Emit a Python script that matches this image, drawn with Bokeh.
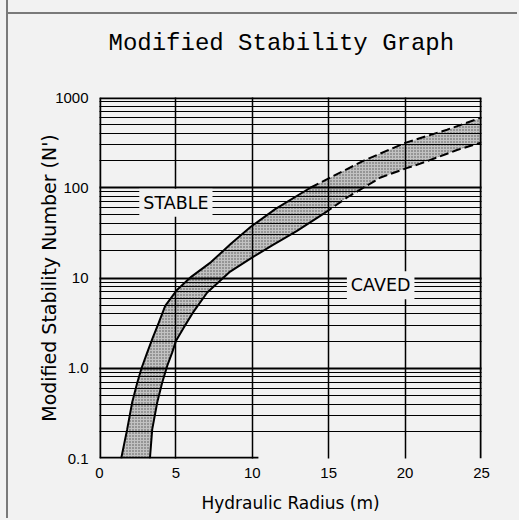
import numpy as np
from bokeh.plotting import figure
from bokeh.models import FixedTicker, Range1d, Label
from bokeh.embed import file_html
from bokeh.resources import INLINE

# ---- data ----
title_text = "Modified Stability Graph"
x_ticks = [0, 5, 10, 15, 20, 25]
y_ticks = [0.1, 1, 10, 100, 1000]
y_tick_labels = ["0.1", "1.0", "10", "100", "1000"]
y_grid_major = [1, 10, 100, 1000]
y_grid_minor = [m * d for d in [0.1, 1, 10, 100] for m in range(2, 10)]

# upper (stable side) boundary of the transition zone
upper_x = [1.42, 1.81, 2.14, 2.47, 2.75, 3.12, 3.45, 3.88, 4.3, 5.05, 6.0, 7.3, 8.6, 9.9, 11.5, 13.8, 15.0, 17.3, 20.0, 22.75, 25.0]
upper_y = [0.1, 0.21, 0.42, 0.69, 1.0, 1.49, 2.1, 3.2, 4.9, 7.3, 10.3, 15, 24, 37, 58, 100, 127, 200, 314, 440, 600]
upper_dash_from = 13.8

# lower (caved side) boundary of the transition zone
lower_x = [3.3, 3.45, 3.78, 4.1, 4.43, 4.76, 5.0, 5.5, 6.1, 7.05, 8.5, 9.9, 11.3, 12.9, 14.7, 16.2, 18.4, 20.1, 21.0, 23.4, 25.0]
lower_y = [0.1, 0.21, 0.42, 0.69, 1.06, 1.5, 2.0, 2.8, 4.1, 6.9, 11.6, 16.5, 23, 33, 52, 78, 130, 165, 185, 262, 318]
lower_dash_from = 14.7

zone_names = ["STABLE", "CAVED"]
zone_x = [5.0, 18.4]
zone_y = [68, 8.3]

bottom_rule_end = 10.4

BG = "#f2f2f2"

p = figure(
    output_backend="svg", toolbar_location=None,
    y_axis_type="log",
    x_range=Range1d(0, 25), y_range=Range1d(0.1, 1000),
    frame_width=382, frame_height=361,
    min_border_left=91, min_border_top=0, min_border_right=36, min_border_bottom=60,
    background_fill_color=BG, border_fill_color=None,
)
p.styles = {"border-left": "2px solid #7a7a7a",
            "margin-left": "6px", "margin-top": "-13px",
            "background-color": BG,
            "box-shadow": ("0 0 0 30px #f2f2f2, inset 0 25px 0 0 #f2f2f2, "
                           "inset 0 27px 0 0 #7a7a7a")}
p.outline_line_color = None

p.title.text = title_text
p.title.text_font = "Liberation Mono"
p.title.text_font_size = "24px"
p.title.text_font_style = "normal"
p.title.text_color = "black"
p.title.align = "left"
p.title.offset = 9
p.title.standoff = 81

# axes
p.xaxis.ticker = FixedTicker(ticks=x_ticks)
p.yaxis.ticker = FixedTicker(ticks=y_ticks)
p.yaxis.major_label_overrides = {v: s for v, s in zip(y_ticks, y_tick_labels)}
for ax in (p.xaxis[0], p.yaxis[0]):
    ax.axis_line_color = None
    ax.major_tick_line_color = None
    ax.minor_tick_line_color = None
    ax.major_tick_out = 0
    ax.minor_tick_out = 0
    ax.major_label_text_font = "Liberation Sans"
    ax.major_label_text_font_size = "15px"
    ax.major_label_text_color = "black"
    ax.axis_label_text_font = "DejaVu Sans"
    ax.axis_label_text_font_style = "normal"
    ax.axis_label_text_color = "black"
p.xaxis.major_label_standoff = 9
p.yaxis.major_label_standoff = 11
p.xaxis.axis_label = "Hydraulic Radius (m)"
p.xaxis.axis_label_text_font_size = "17px"
p.xaxis.axis_label_standoff = 12
p.yaxis.axis_label = "Modified Stability Number (N')"
p.yaxis.axis_label_text_font_size = "19px"
p.yaxis.axis_label_standoff = -8

# grid
p.xgrid.ticker = FixedTicker(ticks=x_ticks[1:-1])
p.xgrid.grid_line_color = "black"
p.xgrid.grid_line_width = 1.5
p.ygrid.ticker = FixedTicker(ticks=y_grid_major, minor_ticks=y_grid_minor)
p.ygrid.grid_line_color = "black"
p.ygrid.grid_line_width = 1.8
p.ygrid.minor_grid_line_color = "black"
p.ygrid.minor_grid_line_width = 1.2
p.xgrid.level = "guide"
p.ygrid.level = "guide"

# transition zone
px = upper_x + lower_x[::-1]
py = upper_y + lower_y[::-1]
p.patch(px, py, fill_color="#bdbdbd", fill_alpha=0.9, line_color=None,
        hatch_pattern=".", hatch_color="#333333", hatch_scale=3, hatch_weight=1, hatch_alpha=0.8)

ux = np.array(upper_x); uy = np.array(upper_y)
lx = np.array(lower_x); ly = np.array(lower_y)
p.line(ux[ux <= upper_dash_from], uy[ux <= upper_dash_from], line_color="black", line_width=2)
p.line(ux[ux >= upper_dash_from], uy[ux >= upper_dash_from], line_color="black", line_width=2, line_dash="9 4")
p.line(lx[lx <= lower_dash_from], ly[lx <= lower_dash_from], line_color="black", line_width=2)
p.line(lx[lx >= lower_dash_from], ly[lx >= lower_dash_from], line_color="black", line_width=2, line_dash="9 4")

# frame borders (left, top, right, partial bottom)
x0, x1 = p.x_range.start, p.x_range.end
y0, y1 = p.y_range.start, p.y_range.end
p.multi_line(xs=[[x0, x0], [x0, x1], [x1, x1], [x0, bottom_rule_end]],
             ys=[[y0, y1], [y1, y1], [y0, y1], [y0, y0]],
             line_color="black", line_width=3.5)

for name, zx, zy in zip(zone_names, zone_x, zone_y):
    p.add_layout(Label(x=zx, y=zy, text=name, text_align="center", text_baseline="middle",
                       text_font="DejaVu Sans", text_font_size="17.5px", text_color="black",
                       background_fill_color=BG, padding=4))

open("out.html", "w").write(file_html(p, INLINE))
